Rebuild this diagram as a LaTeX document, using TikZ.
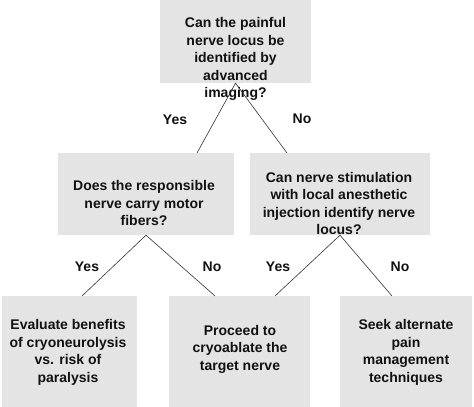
\documentclass[tikz,border=0pt]{standalone}
\usepackage{fontspec}
\setmainfont{Liberation Sans}
\usetikzlibrary{positioning}
\definecolor{boxgray}{HTML}{E4E4E4}
\definecolor{ink}{HTML}{111111}
\definecolor{wire}{HTML}{333333}

\begin{document}
\begin{tikzpicture}[
    x=1pt, y=-1pt,
    font=\fontsize{14}{17.5}\selectfont\bfseries,
    box/.style={fill=boxgray, draw=none, inner sep=0pt},
    txt/.style={ink, align=center, inner sep=0pt},
    branch/.style={wire, line width=0.6pt},
    ans/.style={ink, inner sep=0pt},
  ]
  \useasboundingbox (0,0) rectangle (474,407);

  % ============================================================= BOXES
  \node[box, minimum width=151, minimum height=83] (q1) at (235.5,41.5) {};
  \node[box, minimum width=176, minimum height=82] (q2) at (146,194) {};
  \node[box, minimum width=180, minimum height=82] (q3) at (340,194) {};
  \node[box, minimum width=135, minimum height=111] (r1) at (69.5,351.5) {};
  \node[box, minimum width=141, minimum height=111] (r2) at (239.5,351.5) {};
  \node[box, minimum width=132, minimum height=111] (r3) at (406,351.5) {};

  % ============================================================= TEXTS
  \node[txt] (q1t) at (235.5,59)
    {Can the painful\\nerve locus be\\identified by\\advanced\\imaging?};
  \node[txt] (q2t) at (144,203)
    {Does the responsible\\nerve carry motor\\fibers?};
  \node[txt] (q3t) at (339,203.5)
    {Can nerve stimulation\\with local anesthetic\\injection identify nerve\\locus?};
  \node[txt] (r1t) at (68,352.5)
    {Evaluate benefits\\of cryoneurolysis\\vs. risk of\\paralysis};
  \node[txt] (r2t) at (240,349)
    {Proceed to\\cryoablate the\\target nerve};
  \node[txt] (r3t) at (406,352.5)
    {Seek alternate\\pain\\management\\techniques};

  % ============================================================= BRANCHES
  % entry points on the child boxes (off-centre, as drawn)
  \coordinate (q2in) at (197,153);
  \coordinate (q3in) at (287,153);
  \coordinate (r1in) at (82,296);
  \coordinate (r2in) at (215,296);
  \coordinate (r2in') at (275,296);
  \coordinate (r3in) at (392,296);

  \draw[branch] (q2in) -- (q1.south) -- (q3in);
  \draw[branch] (r1in) -- (q2.south) -- (r2in);
  \draw[branch] (r2in') -- (q3.south) -- (r3in);

  % ============================================================= ANSWERS
  \node[ans] (y1) at (175,120) {Yes};
  \node[ans] (n1) at (302,119) {No};
  \node[ans] (y2) at (87,267) {Yes};
  \node[ans] (n2) at (212,267) {No};
  \node[ans] (y3) at (278,267) {Yes};
  \node[ans] (n3) at (400,267) {No};
\end{tikzpicture}
\end{document}
